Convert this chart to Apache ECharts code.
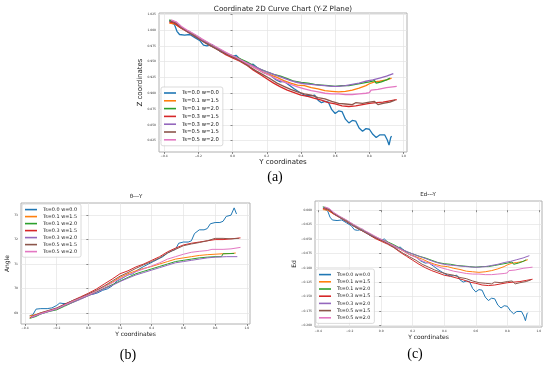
<!DOCTYPE html>
<html><head><meta charset="utf-8">
<script src="https://cdn.jsdelivr.net/npm/echarts@6/dist/echarts.min.js"></script>
<style>html,body{margin:0;padding:0;background:#fff}#c{width:550px;height:366px}</style>
</head><body><div id="c"></div>
<script>
const names = ['Ts=0.0 w=0.0','Ts=0.1 w=1.5','Ts=0.1 w=2.0','Ts=0.3 w=1.5','Ts=0.3 w=2.0','Ts=0.5 w=1.5','Ts=0.5 w=2.0'];
const colors = ['#1f77b4','#ff7f0e','#2ca02c','#d62728','#9467bd','#8c564b','#e377c2'];
const xTicks = [-0.4,-0.2,0,0.2,0.4,0.6,0.8,1.0];
const zTicks = [0.825,0.85,0.875,0.9,0.925,0.95,0.975,1.0,1.025];
const angleTicks = [69,70,71,72,73];
const edTicks = [-0.2,-0.175,-0.15,-0.125,-0.1,-0.075,-0.05,-0.025,0];

// (a) Z vs Y
const zBlue = [[-0.37,1.015],[-0.355,1.011],[-0.34,1.009],[-0.325,0.998],[-0.31,0.993],[-0.28,0.992],[-0.25,0.993],[-0.22,0.988],[-0.19,0.983],[-0.17,0.976],[-0.15,0.975],[-0.12,0.977],[-0.1,0.972],[-0.07,0.966],[-0.03,0.962],[0.0,0.958],[0.02,0.960],[0.04,0.955],[0.07,0.949],[0.1,0.944],[0.12,0.946],[0.15,0.939],[0.18,0.933],[0.22,0.929],[0.25,0.922],[0.28,0.918],[0.3,0.919],[0.33,0.913],[0.36,0.907],[0.4,0.900],[0.43,0.896],[0.46,0.896],[0.48,0.897],[0.5,0.889],[0.52,0.885],[0.54,0.887],[0.56,0.886],[0.58,0.874],[0.6,0.868],[0.62,0.872],[0.64,0.871],[0.66,0.859],[0.68,0.853],[0.7,0.857],[0.72,0.856],[0.74,0.845],[0.76,0.840],[0.78,0.844],[0.8,0.843],[0.82,0.835],[0.84,0.830],[0.86,0.834],[0.89,0.834],[0.905,0.826],[0.915,0.818],[0.925,0.830],[0.93,0.832]];
const zOrange15 = [[-0.37,1.011],[-0.34,1.010],[-0.3,1.003],[-0.25,0.996],[-0.2,0.988],[-0.17,0.983],[-0.14,0.977],[-0.1,0.973],[-0.06,0.966],[-0.03,0.961],[0.0,0.957],[0.03,0.956],[0.06,0.951],[0.1,0.945],[0.14,0.939],[0.18,0.933],[0.22,0.929],[0.26,0.925],[0.3,0.920],[0.34,0.916],[0.38,0.913],[0.42,0.912],[0.46,0.909],[0.5,0.907],[0.54,0.904],[0.58,0.903],[0.62,0.902],[0.66,0.903],[0.7,0.905],[0.74,0.908],[0.78,0.912],[0.8,0.915],[0.83,0.918],[0.86,0.919],[0.9,0.921],[0.93,0.924]];
const zGreen20 = [[-0.37,1.016],[-0.34,1.013],[-0.3,1.004],[-0.25,0.997],[-0.2,0.989],[-0.16,0.982],[-0.12,0.976],[-0.08,0.970],[-0.04,0.964],[0.0,0.959],[0.04,0.955],[0.08,0.950],[0.12,0.944],[0.16,0.938],[0.2,0.934],[0.24,0.930],[0.28,0.927],[0.32,0.923],[0.36,0.919],[0.4,0.917],[0.44,0.916],[0.48,0.914],[0.52,0.913],[0.56,0.912],[0.6,0.911],[0.64,0.912],[0.68,0.912],[0.72,0.914],[0.76,0.916],[0.8,0.918],[0.83,0.920],[0.84,0.916],[0.87,0.918],[0.9,0.921],[0.92,0.924]];
const zRed15 = [[-0.37,1.013],[-0.34,1.011],[-0.3,1.003],[-0.25,0.995],[-0.2,0.987],[-0.16,0.980],[-0.12,0.974],[-0.08,0.968],[-0.04,0.961],[0.0,0.956],[0.04,0.951],[0.08,0.945],[0.12,0.937],[0.16,0.930],[0.2,0.923],[0.24,0.916],[0.28,0.910],[0.32,0.905],[0.36,0.901],[0.4,0.897],[0.44,0.895],[0.48,0.892],[0.52,0.889],[0.56,0.885],[0.6,0.883],[0.64,0.880],[0.68,0.879],[0.72,0.880],[0.76,0.882],[0.8,0.884],[0.84,0.885],[0.88,0.886],[0.92,0.888],[0.96,0.890]];
const zPurple20 = [[-0.36,1.015],[-0.33,1.012],[-0.3,1.004],[-0.26,0.997],[-0.22,0.990],[-0.18,0.984],[-0.14,0.977],[-0.1,0.972],[-0.06,0.966],[-0.02,0.961],[0.02,0.956],[0.06,0.951],[0.1,0.946],[0.14,0.941],[0.18,0.936],[0.22,0.932],[0.26,0.928],[0.3,0.924],[0.34,0.920],[0.38,0.917],[0.42,0.915],[0.46,0.914],[0.5,0.913],[0.54,0.912],[0.58,0.911],[0.62,0.911],[0.66,0.912],[0.7,0.914],[0.74,0.916],[0.78,0.919],[0.82,0.921],[0.86,0.924],[0.9,0.927],[0.94,0.931]];
const zBrown15 = [[-0.36,1.014],[-0.33,1.011],[-0.3,1.004],[-0.26,0.997],[-0.22,0.990],[-0.18,0.983],[-0.14,0.977],[-0.1,0.971],[-0.06,0.965],[-0.02,0.960],[0.02,0.955],[0.06,0.949],[0.1,0.942],[0.14,0.935],[0.18,0.929],[0.22,0.923],[0.26,0.916],[0.3,0.911],[0.34,0.906],[0.38,0.902],[0.42,0.899],[0.46,0.897],[0.5,0.893],[0.54,0.891],[0.58,0.887],[0.62,0.884],[0.66,0.883],[0.7,0.882],[0.72,0.885],[0.76,0.884],[0.8,0.886],[0.83,0.887],[0.85,0.882],[0.88,0.884],[0.92,0.886],[0.95,0.889]];
const zPink20 = [[-0.36,1.016],[-0.33,1.013],[-0.3,1.006],[-0.26,0.999],[-0.22,0.993],[-0.18,0.986],[-0.14,0.980],[-0.1,0.974],[-0.06,0.968],[-0.02,0.962],[0.02,0.957],[0.06,0.951],[0.1,0.945],[0.14,0.939],[0.18,0.933],[0.22,0.928],[0.26,0.922],[0.3,0.918],[0.34,0.914],[0.38,0.910],[0.42,0.907],[0.46,0.904],[0.5,0.902],[0.54,0.900],[0.58,0.899],[0.62,0.899],[0.66,0.898],[0.7,0.898],[0.74,0.899],[0.78,0.900],[0.8,0.901],[0.81,0.905],[0.85,0.906],[0.9,0.909],[0.96,0.911]];

// (b) Angle vs Y
const aBlue = [[-0.37,68.88],[-0.35,68.92],[-0.33,69.15],[-0.3,69.17],[-0.26,69.17],[-0.23,69.2],[-0.2,69.3],[-0.18,69.4],[-0.16,69.38],[-0.13,69.38],[-0.1,69.45],[-0.07,69.55],[-0.04,69.62],[0.0,69.75],[0.03,69.76],[0.06,69.82],[0.09,69.92],[0.12,69.98],[0.15,70.1],[0.18,70.3],[0.21,70.4],[0.25,70.55],[0.28,70.6],[0.31,70.75],[0.35,70.9],[0.38,71.0],[0.41,71.1],[0.44,71.2],[0.47,71.3],[0.5,71.45],[0.53,71.55],[0.55,71.6],[0.57,71.85],[0.6,71.9],[0.63,71.9],[0.65,71.95],[0.67,72.25],[0.7,72.4],[0.73,72.4],[0.75,72.45],[0.77,72.65],[0.8,72.7],[0.83,72.7],[0.85,72.75],[0.87,72.95],[0.9,73.0],[0.91,73.0],[0.92,73.3],[0.935,73.05]];
const aOrange15 = [[-0.37,68.87],[-0.33,68.93],[-0.3,69.0],[-0.25,69.08],[-0.2,69.15],[-0.15,69.3],[-0.1,69.45],[-0.05,69.6],[0.0,69.72],[0.05,69.9],[0.1,70.08],[0.15,70.25],[0.2,70.45],[0.25,70.6],[0.3,70.72],[0.35,70.82],[0.4,70.9],[0.45,71.0],[0.5,71.1],[0.55,71.2],[0.6,71.25],[0.65,71.3],[0.7,71.35],[0.75,71.38],[0.8,71.4],[0.85,71.42],[0.9,71.43],[0.93,71.45]];
const aGreen20 = [[-0.37,68.77],[-0.33,68.85],[-0.3,68.95],[-0.25,69.05],[-0.2,69.12],[-0.15,69.27],[-0.1,69.42],[-0.05,69.57],[0.0,69.7],[0.05,69.85],[0.1,70.0],[0.15,70.15],[0.2,70.3],[0.25,70.45],[0.3,70.6],[0.35,70.7],[0.4,70.8],[0.45,70.9],[0.5,71.0],[0.55,71.1],[0.6,71.15],[0.65,71.2],[0.7,71.25],[0.75,71.28],[0.8,71.3],[0.84,71.3],[0.85,71.42],[0.92,71.43]];
const aRed15 = [[-0.37,68.8],[-0.33,68.9],[-0.3,68.98],[-0.25,69.07],[-0.2,69.18],[-0.15,69.35],[-0.1,69.5],[-0.05,69.65],[0.0,69.8],[0.05,69.97],[0.1,70.18],[0.15,70.38],[0.2,70.6],[0.25,70.72],[0.3,70.88],[0.35,71.0],[0.4,71.15],[0.45,71.3],[0.5,71.5],[0.55,71.65],[0.6,71.78],[0.65,71.85],[0.7,71.9],[0.75,71.95],[0.8,72.0],[0.85,72.0],[0.9,72.03],[0.96,72.07]];
const aPurple20 = [[-0.36,68.8],[-0.33,68.88],[-0.3,68.95],[-0.25,69.05],[-0.2,69.15],[-0.15,69.3],[-0.1,69.42],[-0.05,69.55],[0.0,69.7],[0.05,69.82],[0.1,69.98],[0.15,70.12],[0.2,70.28],[0.25,70.42],[0.3,70.55],[0.35,70.65],[0.4,70.75],[0.45,70.85],[0.5,70.95],[0.55,71.05],[0.6,71.1],[0.65,71.15],[0.7,71.2],[0.75,71.25],[0.8,71.28],[0.87,71.3],[0.94,71.3]];
const aBrown15 = [[-0.36,68.85],[-0.33,68.92],[-0.3,69.0],[-0.25,69.1],[-0.2,69.2],[-0.15,69.35],[-0.1,69.5],[-0.05,69.62],[0.0,69.77],[0.05,69.92],[0.1,70.1],[0.15,70.3],[0.2,70.5],[0.25,70.65],[0.3,70.82],[0.35,70.97],[0.4,71.1],[0.45,71.25],[0.5,71.45],[0.55,71.6],[0.6,71.75],[0.65,71.82],[0.7,71.88],[0.75,71.95],[0.8,72.05],[0.85,72.05],[0.9,72.03],[0.95,72.05]];
const aPink20 = [[-0.36,68.82],[-0.33,68.9],[-0.3,68.97],[-0.25,69.07],[-0.2,69.17],[-0.15,69.32],[-0.1,69.47],[-0.05,69.6],[0.0,69.73],[0.05,69.88],[0.1,70.05],[0.15,70.22],[0.2,70.4],[0.25,70.55],[0.3,70.68],[0.35,70.8],[0.4,70.92],[0.45,71.05],[0.5,71.2],[0.55,71.3],[0.6,71.4],[0.65,71.48],[0.7,71.52],[0.75,71.55],[0.78,71.6],[0.85,71.6],[0.9,71.62],[0.96,71.68]];

// (c) Ed vs Y
const eBlue = [[-0.37,0.005],[-0.355,0.001],[-0.34,-0.001],[-0.325,-0.012],[-0.31,-0.017],[-0.28,-0.018],[-0.25,-0.017],[-0.22,-0.022],[-0.19,-0.027],[-0.17,-0.034],[-0.15,-0.035],[-0.12,-0.033],[-0.1,-0.038],[-0.07,-0.044],[-0.03,-0.048],[0.0,-0.052],[0.02,-0.050],[0.04,-0.055],[0.07,-0.061],[0.1,-0.066],[0.12,-0.064],[0.15,-0.071],[0.18,-0.077],[0.22,-0.081],[0.25,-0.088],[0.28,-0.092],[0.3,-0.091],[0.33,-0.097],[0.36,-0.103],[0.4,-0.110],[0.43,-0.114],[0.46,-0.114],[0.48,-0.113],[0.5,-0.121],[0.52,-0.125],[0.54,-0.123],[0.56,-0.124],[0.58,-0.136],[0.6,-0.142],[0.62,-0.138],[0.64,-0.139],[0.66,-0.151],[0.68,-0.157],[0.7,-0.153],[0.72,-0.154],[0.74,-0.165],[0.76,-0.170],[0.78,-0.166],[0.8,-0.167],[0.82,-0.175],[0.84,-0.180],[0.86,-0.176],[0.89,-0.176],[0.905,-0.184],[0.915,-0.192],[0.925,-0.180],[0.93,-0.178]];
const eOrange15 = [[-0.37,0.001],[-0.34,0.000],[-0.3,-0.007],[-0.25,-0.014],[-0.2,-0.022],[-0.17,-0.027],[-0.14,-0.033],[-0.1,-0.037],[-0.06,-0.044],[-0.03,-0.049],[0.0,-0.053],[0.03,-0.054],[0.06,-0.059],[0.1,-0.065],[0.14,-0.071],[0.18,-0.077],[0.22,-0.081],[0.26,-0.085],[0.3,-0.090],[0.34,-0.094],[0.38,-0.097],[0.42,-0.098],[0.46,-0.101],[0.5,-0.103],[0.54,-0.106],[0.58,-0.107],[0.62,-0.108],[0.66,-0.107],[0.7,-0.105],[0.74,-0.102],[0.78,-0.098],[0.8,-0.095],[0.83,-0.092],[0.86,-0.091],[0.9,-0.089],[0.93,-0.086]];
const eGreen20 = [[-0.37,0.006],[-0.34,0.003],[-0.3,-0.006],[-0.25,-0.013],[-0.2,-0.021],[-0.16,-0.028],[-0.12,-0.034],[-0.08,-0.040],[-0.04,-0.046],[0.0,-0.051],[0.04,-0.055],[0.08,-0.060],[0.12,-0.066],[0.16,-0.072],[0.2,-0.076],[0.24,-0.080],[0.28,-0.083],[0.32,-0.087],[0.36,-0.091],[0.4,-0.093],[0.44,-0.094],[0.48,-0.096],[0.52,-0.097],[0.56,-0.098],[0.6,-0.099],[0.64,-0.098],[0.68,-0.098],[0.72,-0.096],[0.76,-0.094],[0.8,-0.092],[0.83,-0.090],[0.84,-0.094],[0.87,-0.092],[0.9,-0.089],[0.92,-0.086]];
const eRed15 = [[-0.37,0.003],[-0.34,0.001],[-0.3,-0.007],[-0.25,-0.015],[-0.2,-0.023],[-0.16,-0.030],[-0.12,-0.036],[-0.08,-0.042],[-0.04,-0.049],[0.0,-0.054],[0.04,-0.059],[0.08,-0.065],[0.12,-0.073],[0.16,-0.080],[0.2,-0.087],[0.24,-0.094],[0.28,-0.100],[0.32,-0.105],[0.36,-0.109],[0.4,-0.113],[0.44,-0.115],[0.48,-0.118],[0.52,-0.121],[0.56,-0.125],[0.6,-0.127],[0.64,-0.130],[0.68,-0.131],[0.72,-0.130],[0.76,-0.128],[0.8,-0.126],[0.84,-0.125],[0.88,-0.124],[0.92,-0.122],[0.96,-0.120]];
const ePurple20 = [[-0.36,0.005],[-0.33,0.002],[-0.3,-0.006],[-0.26,-0.013],[-0.22,-0.020],[-0.18,-0.026],[-0.14,-0.033],[-0.1,-0.038],[-0.06,-0.044],[-0.02,-0.049],[0.02,-0.054],[0.06,-0.059],[0.1,-0.064],[0.14,-0.069],[0.18,-0.074],[0.22,-0.078],[0.26,-0.082],[0.3,-0.086],[0.34,-0.090],[0.38,-0.093],[0.42,-0.095],[0.46,-0.096],[0.5,-0.097],[0.54,-0.098],[0.58,-0.099],[0.62,-0.099],[0.66,-0.098],[0.7,-0.096],[0.74,-0.094],[0.78,-0.091],[0.82,-0.089],[0.86,-0.086],[0.9,-0.083],[0.94,-0.079]];
const eBrown15 = [[-0.36,0.004],[-0.33,0.001],[-0.3,-0.006],[-0.26,-0.013],[-0.22,-0.020],[-0.18,-0.027],[-0.14,-0.033],[-0.1,-0.039],[-0.06,-0.045],[-0.02,-0.050],[0.02,-0.055],[0.06,-0.061],[0.1,-0.068],[0.14,-0.075],[0.18,-0.081],[0.22,-0.087],[0.26,-0.094],[0.3,-0.099],[0.34,-0.104],[0.38,-0.108],[0.42,-0.111],[0.46,-0.113],[0.5,-0.117],[0.54,-0.119],[0.58,-0.123],[0.62,-0.126],[0.66,-0.127],[0.7,-0.128],[0.72,-0.125],[0.76,-0.126],[0.8,-0.124],[0.83,-0.123],[0.85,-0.128],[0.88,-0.126],[0.92,-0.124],[0.95,-0.121]];
const ePink20 = [[-0.36,0.006],[-0.33,0.003],[-0.3,-0.004],[-0.26,-0.011],[-0.22,-0.017],[-0.18,-0.024],[-0.14,-0.030],[-0.1,-0.036],[-0.06,-0.042],[-0.02,-0.048],[0.02,-0.053],[0.06,-0.059],[0.1,-0.065],[0.14,-0.071],[0.18,-0.077],[0.22,-0.082],[0.26,-0.088],[0.3,-0.092],[0.34,-0.096],[0.38,-0.100],[0.42,-0.103],[0.46,-0.106],[0.5,-0.108],[0.54,-0.110],[0.58,-0.111],[0.62,-0.111],[0.66,-0.112],[0.7,-0.112],[0.74,-0.111],[0.78,-0.110],[0.8,-0.109],[0.81,-0.105],[0.85,-0.104],[0.9,-0.101],[0.96,-0.099]];

const zSets = [zBlue,zOrange15,zGreen20,zRed15,zPurple20,zBrown15,zPink20];
const aSets = [aBlue,aOrange15,aGreen20,aRed15,aPurple20,aBrown15,aPink20];
const eSets = [eBlue,eOrange15,eGreen20,eRed15,ePurple20,eBrown15,ePink20];

const FONT = 'DejaVu Sans';
const chart = echarts.init(document.getElementById('c'), null, {renderer:'canvas'});

function minus(s){ return s.replace('-', '\u2212'); }
function xAxisFor(gi, min, max, nameGap, nameSize){
  return {type:'value', gridIndex:gi, min:min, max:max,
    name:'Y coordinates', nameLocation:'middle', nameGap:nameGap,
    nameTextStyle:{fontFamily:FONT, fontSize:nameSize, color:'#222'},
    axisLine:{show:false},
    axisTick:{show:true, length:2, inside:false, customValues:xTicks, lineStyle:{color:'#444', width:0.6}},
    axisLabel:{customValues:xTicks, fontFamily:FONT, fontSize:3, color:'#333', margin:3,
      formatter:v=>minus(v.toFixed(1))},
    splitLine:{show:true, lineStyle:{color:'#e4e4e4', width:0.7}}};
}
function yAxisFor(gi, min, max, ticks, dec, name, nameGap, nameSize){
  return {type:'value', gridIndex:gi, min:min, max:max,
    name:name, nameLocation:'middle', nameGap:nameGap,
    nameTextStyle:{fontFamily:FONT, fontSize:nameSize, color:'#222'},
    axisLine:{show:false},
    axisTick:{show:true, length:2, customValues:ticks, lineStyle:{color:'#444', width:0.6}},
    axisLabel:{customValues:ticks, fontFamily:FONT, fontSize:3, color:'#333', margin:3,
      formatter:v=>minus(v.toFixed(dec))},
    splitLine:{show:true, lineStyle:{color:'#e4e4e4', width:0.7}}};
}
function legendFor(left, top, fs, lh, gap){
  return {orient:'vertical', left:left, top:top, data:names, icon:'rect', itemWidth:12, itemHeight:1.6, itemGap:gap,
    padding:[3,4,3,3], backgroundColor:'rgba(255,255,255,0.85)', borderColor:'#cccccc', borderWidth:0.7, borderRadius:2,
    textStyle:{fontFamily:FONT, fontSize:fs, lineHeight:lh, color:'#222', padding:[0,0,0,1]},
    selectedMode:false};
}

const series = [];
[zSets, aSets, eSets].forEach((sets, gi) => {
  sets.forEach((d, i) => {
    series.push({type:'line', name:names[i], xAxisIndex:gi, yAxisIndex:gi, data:d,
      symbol:'none', showSymbol:false, smooth:false, animation:false,
      lineStyle:{color:colors[i], width: gi===0 ? 1.3 : 1.0}, itemStyle:{color:colors[i]}});
  });
});

const option = {
  animation:false,
  backgroundColor:'#ffffff',
  color:colors,
  grid:[
    {left:159, top:13, width:248, height:139, show:true, borderColor:'#b0b0b0', borderWidth:1, backgroundColor:'#fff'},
    {left:21, top:203, width:229, height:121, show:true, borderColor:'#b0b0b0', borderWidth:1, backgroundColor:'#fff'},
    {left:315, top:201, width:227, height:126, show:true, borderColor:'#b0b0b0', borderWidth:1, backgroundColor:'#fff'}
  ],
  xAxis:[ xAxisFor(0,-0.43,1.02,5,7), xAxisFor(1,-0.425,1.02,7,6), xAxisFor(2,-0.42,1.02,7,6) ],
  yAxis:[
    yAxisFor(0,0.807,1.027,zTicks,3,'Z coordinates',14,7),
    yAxisFor(1,68.54,73.5,angleTicks,0,'Angle',7,6),
    yAxisFor(2,-0.203,0.016,edTicks,3,'Ed',17,6)
  ],
  legend:[ legendFor(161,87,5.3,6,1.8), legendFor(22,204,4.9,5.2,1.8), legendFor(316,269,4.8,5.2,2) ],
  graphic:[
    {type:'text', x:283, y:9, style:{text:'Coordinate 2D Curve Chart (Y-Z Plane)', fontFamily:FONT, fontSize:7.2, fill:'#222', textAlign:'center', textVerticalAlign:'middle'}},
    {type:'text', x:136, y:197, style:{text:'\u03b8---Y', fontFamily:FONT, fontSize:5.5, fill:'#222', textAlign:'center', textVerticalAlign:'middle'}},
    {type:'text', x:428, y:195, style:{text:'Ed---Y', fontFamily:FONT, fontSize:5.5, fill:'#222', textAlign:'center', textVerticalAlign:'middle'}},
    {type:'text', x:275, y:177, style:{text:'(a)', fontFamily:'Liberation Serif', fontSize:14, fill:'#000', textAlign:'center', textVerticalAlign:'middle'}},
    {type:'text', x:128, y:355, style:{text:'(b)', fontFamily:'Liberation Serif', fontSize:14, fill:'#000', textAlign:'center', textVerticalAlign:'middle'}},
    {type:'text', x:415, y:354, style:{text:'(c)', fontFamily:'Liberation Serif', fontSize:14, fill:'#000', textAlign:'center', textVerticalAlign:'middle'}}
  ],
  series:series
};
chart.setOption(option);
</script></body></html>
